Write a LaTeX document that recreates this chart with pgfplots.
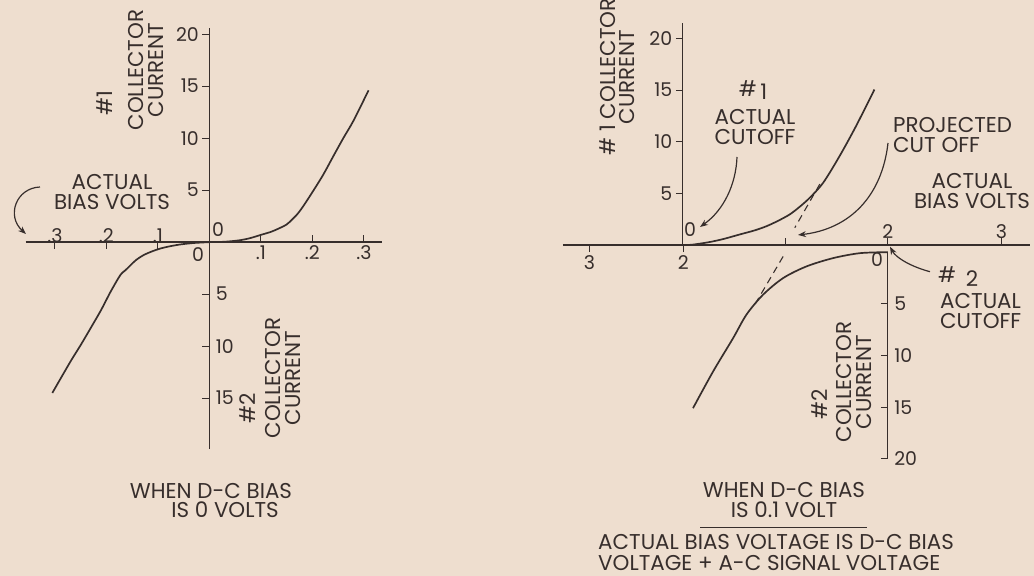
\documentclass[border=0pt]{standalone}
\usepackage{fontspec}
\setmainfont{Poppins}
\usepackage{pgfplots}
\pgfplotsset{compat=1.18}
\usetikzlibrary{arrows.meta}
\definecolor{bg}{RGB}{238,222,207}
\definecolor{ink}{RGB}{55,46,44}
\newcommand{\fs}{\fontsize{21.5}{19.5}\selectfont}
\newcommand{\fst}{\fontsize{19}{19}\selectfont}
\pgfplotsset{
  mystyle/.style={
    axis lines=middle,
    axis line style={-, line width=1.4pt, ink},
    every inner x axis line/.append style={-},
    every inner y axis line/.append style={-},
    enlargelimits=false, clip=false,
    tick style={ink, line width=1pt},
    major tick length=7bp,
    xtick align=inside, ytick align=outside,
    ticklabel style={font=\fst, text=ink},
    /pgf/number format/assume math mode=true,
    anchor=south west,
  },
  curve/.style={ink, line width=1.7pt, smooth, no markers},
}
\begin{document}
\begin{tikzpicture}[x=1bp,y=1bp]
\fill[bg] (0,0) rectangle (1034,576);
\begin{scope}
\clip (0,0) rectangle (1034,576);

% ---------- left chart ----------
\begin{axis}[mystyle, at={(49.6,122)}, x=515bp, y=10.4bp,
  xmin=-0.357, xmax=0.336, ymin=-19.9, ymax=20.6,
  xtick={0.1,0.2,0.3}, xticklabels={.1,.2,.3},
  extra x ticks={-0.3,-0.2,-0.1}, extra x tick labels={.3,.2,.1},
  extra x tick style={xtick align=outside, tick label style={anchor=south, yshift=3bp}},
  ytick={5,10,15,20}, yticklabels={5,10,15,20},
  extra y ticks={-5,-10,-15,-20}, extra y tick labels={5,10,15,20},
  extra y tick style={tick label style={anchor=west, xshift=10bp}},
]
\addplot[curve] coordinates {(0,0) (0.03,0.04) (0.06,0.19) (0.08,0.4) (0.1,0.7) (0.12,1.0) (0.135,1.32) (0.15,1.7) (0.16,2.15) (0.17,2.65) (0.18,3.3) (0.196,4.5) (0.22,6.4) (0.241,8.3) (0.26,10.0) (0.28,11.7) (0.309,14.6)};
\addplot[curve] coordinates {(0,0) (-0.03,-0.08) (-0.056,-0.22) (-0.075,-0.38) (-0.095,-0.61) (-0.112,-0.9) (-0.128,-1.25) (-0.142,-1.7) (-0.153,-2.21) (-0.163,-2.7) (-0.173,-3.17) (-0.192,-4.78) (-0.21,-6.5) (-0.231,-8.3) (-0.25,-9.9) (-0.27,-11.5) (-0.305,-14.5)};
\end{axis}

% ---------- right chart, #1 ----------
\begin{axis}[mystyle, at={(549.1,320)}, x=102.5bp, y=10.34bp,
  xmin=-1.17, xmax=3.385, ymin=0, ymax=21.5,
  xtick={-0.91,0.005}, xticklabels={3,2},
  xtick align=outside,
  extra x ticks={1,2,3.11}, extra x tick labels={,2,3},
  extra x tick style={xtick align=inside, tick label style={anchor=south, yshift=3bp}},
  ytick={5,10,15,20}, yticklabels={5,10,15,20},
]
\addplot[curve] coordinates {(0,0) (0.1,0.05) (0.264,0.3) (0.4,0.6) (0.556,1.03) (0.7,1.42) (0.817,1.83) (0.93,2.35) (1.044,2.97) (1.14,3.7) (1.239,4.58) (1.37,6.03) (1.53,8.61) (1.69,11.5) (1.87,15.05)};
\addplot[ink, line width=1.1pt, dash pattern=on 7bp off 5bp, no markers] coordinates {(1.337,5.9) (1.093,1.68)};
\end{axis}

% ---------- right chart, #2 ----------
\begin{axis}[mystyle, at={(549.1,113.2)}, x=102.5bp, y=10.34bp,
  axis x line=none,
  xmin=-3.17, xmax=1.385, ymin=-20, ymax=0,
  xtick=\empty,
  ytick={-5,-10,-15,-20}, yticklabels={5,10,15,20},
  yticklabel style={anchor=west, xshift=10bp},
]
\addplot[curve] coordinates {(0,0) (-0.273,-0.1) (-0.534,-0.58) (-0.793,-1.38) (-1.021,-2.51) (-1.217,-4.12) (-1.379,-6.05) (-1.509,-8.32) (-1.704,-11.54) (-1.9,-15.09)};
\addplot[ink, line width=1.1pt, dash pattern=on 7bp off 5bp, no markers] coordinates {(-1.021,-0.42) (-1.298,-5.09)};
\end{axis}

% ---------- texts left ----------
\begin{scope}[every node/.style={font=\fs, text=ink, inner sep=0pt}]
\node[rotate=90] at (105,473) {\#1};
\node[rotate=90, align=center] at (146,506) {COLLECTOR\\CURRENT};
\node[align=center] at (112,384) {ACTUAL\\BIAS VOLTS};
\draw[ink, line width=1.2pt, -{Stealth[length=8bp,width=6bp]}] (40,389) .. controls (16,388) and (6,360) .. (26,342);
\node[font=\fst] at (218,346) {0};
\node[font=\fst] at (198,321) {0};
\node[rotate=90] at (248,168) {\#2};
\node[rotate=90, align=center] at (283,198) {COLLECTOR\\CURRENT};
\node at (211,85) {WHEN D-C BIAS};
\node at (225,66) {IS 0 VOLTS};

% ---------- texts right ----------
\node[rotate=90, align=center] at (617,499) {\# 1 COLLECTOR\\CURRENT};
\node at (753,486) {\#\,\raisebox{-3pt}{1}};
\node[align=center] at (755,449) {ACTUAL\\CUTOFF};
\draw[ink, line width=1.2pt, -{Stealth[length=8bp,width=6bp]}] (737,419) .. controls (736,392) and (724,366) .. (700,349);
\node[font=\fst] at (690,346) {0};
\node[align=left, anchor=west] at (893,441) {PROJECTED\\CUT OFF};
\draw[ink, line width=1.2pt, -{Stealth[length=8bp,width=6bp]}] (888,433) .. controls (882,380) and (850,347) .. (798,341);
\node[align=center] at (972,385) {ACTUAL\\BIAS VOLTS};
\node[font=\fst] at (877,316) {0};
\node at (947,301) {\#};
\node at (972,297) {2};
\node[align=left, anchor=west] at (940,265) {ACTUAL\\CUTOFF};
\draw[ink, line width=1.2pt, -{Stealth[length=8bp,width=6bp]}] (930,304.3) .. controls (912,309) and (896,318) .. (890,329.3);
\node[rotate=90] at (820,172) {\#2};
\node[rotate=90, align=center] at (854,194) {COLLECTOR\\CURRENT};
\node[align=center] at (784,76) {WHEN D-C BIAS\\IS 0.1 VOLT};
\draw[ink, line width=1.2pt] (700,48.5) -- (867,48.5);
\node[align=left, anchor=west, font={\fontsize{21.5}{20.5}\selectfont}] at (598,23.5) {ACTUAL BIAS VOLTAGE IS D-C BIAS\\VOLTAGE + A-C SIGNAL VOLTAGE};
\end{scope}
\end{scope}
\pgfresetboundingbox
\useasboundingbox (0,0) rectangle (1034,576);
\end{tikzpicture}
\end{document}
